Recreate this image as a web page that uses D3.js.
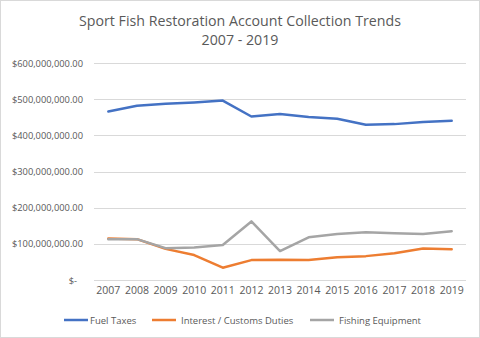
<!DOCTYPE html>
<html><head><meta charset="utf-8">
<script src="https://cdn.jsdelivr.net/npm/d3@7"></script>
<style>body{margin:0;background:#fff}svg{display:block}text{font-family:"Open Sans",Calibri,sans-serif;fill:#595959}</style>
</head><body>
<svg id="c" width="480" height="338"></svg>
<script>
const years = ["2007","2008","2009","2010","2011","2012","2013","2014","2015","2016","2017","2018","2019"];
const fuelTaxes = [466e6,482e6,487e6,491e6,496e6,452e6,459e6,451e6,446e6,429e6,431e6,437e6,440e6];
const interestCustoms = [115e6,113e6,86e6,69e6,34e6,55e6,56e6,55e6,63e6,66e6,74e6,87e6,85e6];
const fishingEquipment = [113e6,113e6,88e6,90e6,97e6,162e6,80e6,118e6,127e6,132e6,129e6,127e6,135e6];
const yTicks = [0,100e6,200e6,300e6,400e6,500e6,600e6];
const seriesNames = ["Fuel Taxes","Interest / Customs Duties","Fishing Equipment"];
const colors = ["#4472C4","#ED7D31","#A5A5A5"];

const svg = d3.select("#c");
svg.append("rect").attr("x",0.5).attr("y",0.5).attr("width",479).attr("height",337).attr("fill","#fff").attr("stroke","#d9d9d9");

svg.append("text").attr("x",240).attr("y",26).attr("text-anchor","middle").style("font-size","14.2px").text("Sport Fish Restoration Account Collection Trends");
svg.append("text").attr("x",240).attr("y",45).attr("text-anchor","middle").style("font-size","14.2px").text("2007 - 2019");

const x = d3.scaleBand().domain(years).range([94,466]);
const y = d3.scaleLinear().domain([0,600e6]).range([280,63]);

const fmt = v => v === 0 ? "$-" : "$" + d3.format(",.2f")(v);

const gy = svg.append("g");
yTicks.forEach(t => {
  gy.append("line").attr("x1",94).attr("x2",466).attr("y1",Math.round(y(t))+0.5).attr("y2",Math.round(y(t))+0.5).attr("stroke","#d9d9d9").attr("stroke-width",1);
  gy.append("text").attr("x", t===0?77:83).attr("y",y(t)+3.5).attr("text-anchor","end").style("font-size","9.3px").text(fmt(t));
});

const gx = svg.append("g");
years.forEach(yr => {
  gx.append("text").attr("x",x(yr)+x.bandwidth()/2).attr("y",294).attr("text-anchor","middle").style("font-size","10.5px").text(yr);
});

const line = d3.line().x((d,i)=>x(years[i])+x.bandwidth()/2).y(d=>y(d));
[fuelTaxes, interestCustoms, fishingEquipment].forEach((s,i)=>{
  svg.append("path").datum(s).attr("d",line).attr("fill","none").attr("stroke",colors[i]).attr("stroke-width",2.5).attr("stroke-linejoin","round").attr("stroke-linecap","round");
});

const legendX = [64,152,310];
seriesNames.forEach((n,i)=>{
  svg.append("line").attr("x1",legendX[i]).attr("x2",legendX[i]+24).attr("y1",320).attr("y2",320).attr("stroke",colors[i]).attr("stroke-width",2.5);
  svg.append("text").attr("x",legendX[i]+(i===0?26:29)).attr("y",323.5).style("font-size","9.5px").text(n);
});
</script>
</body></html>
